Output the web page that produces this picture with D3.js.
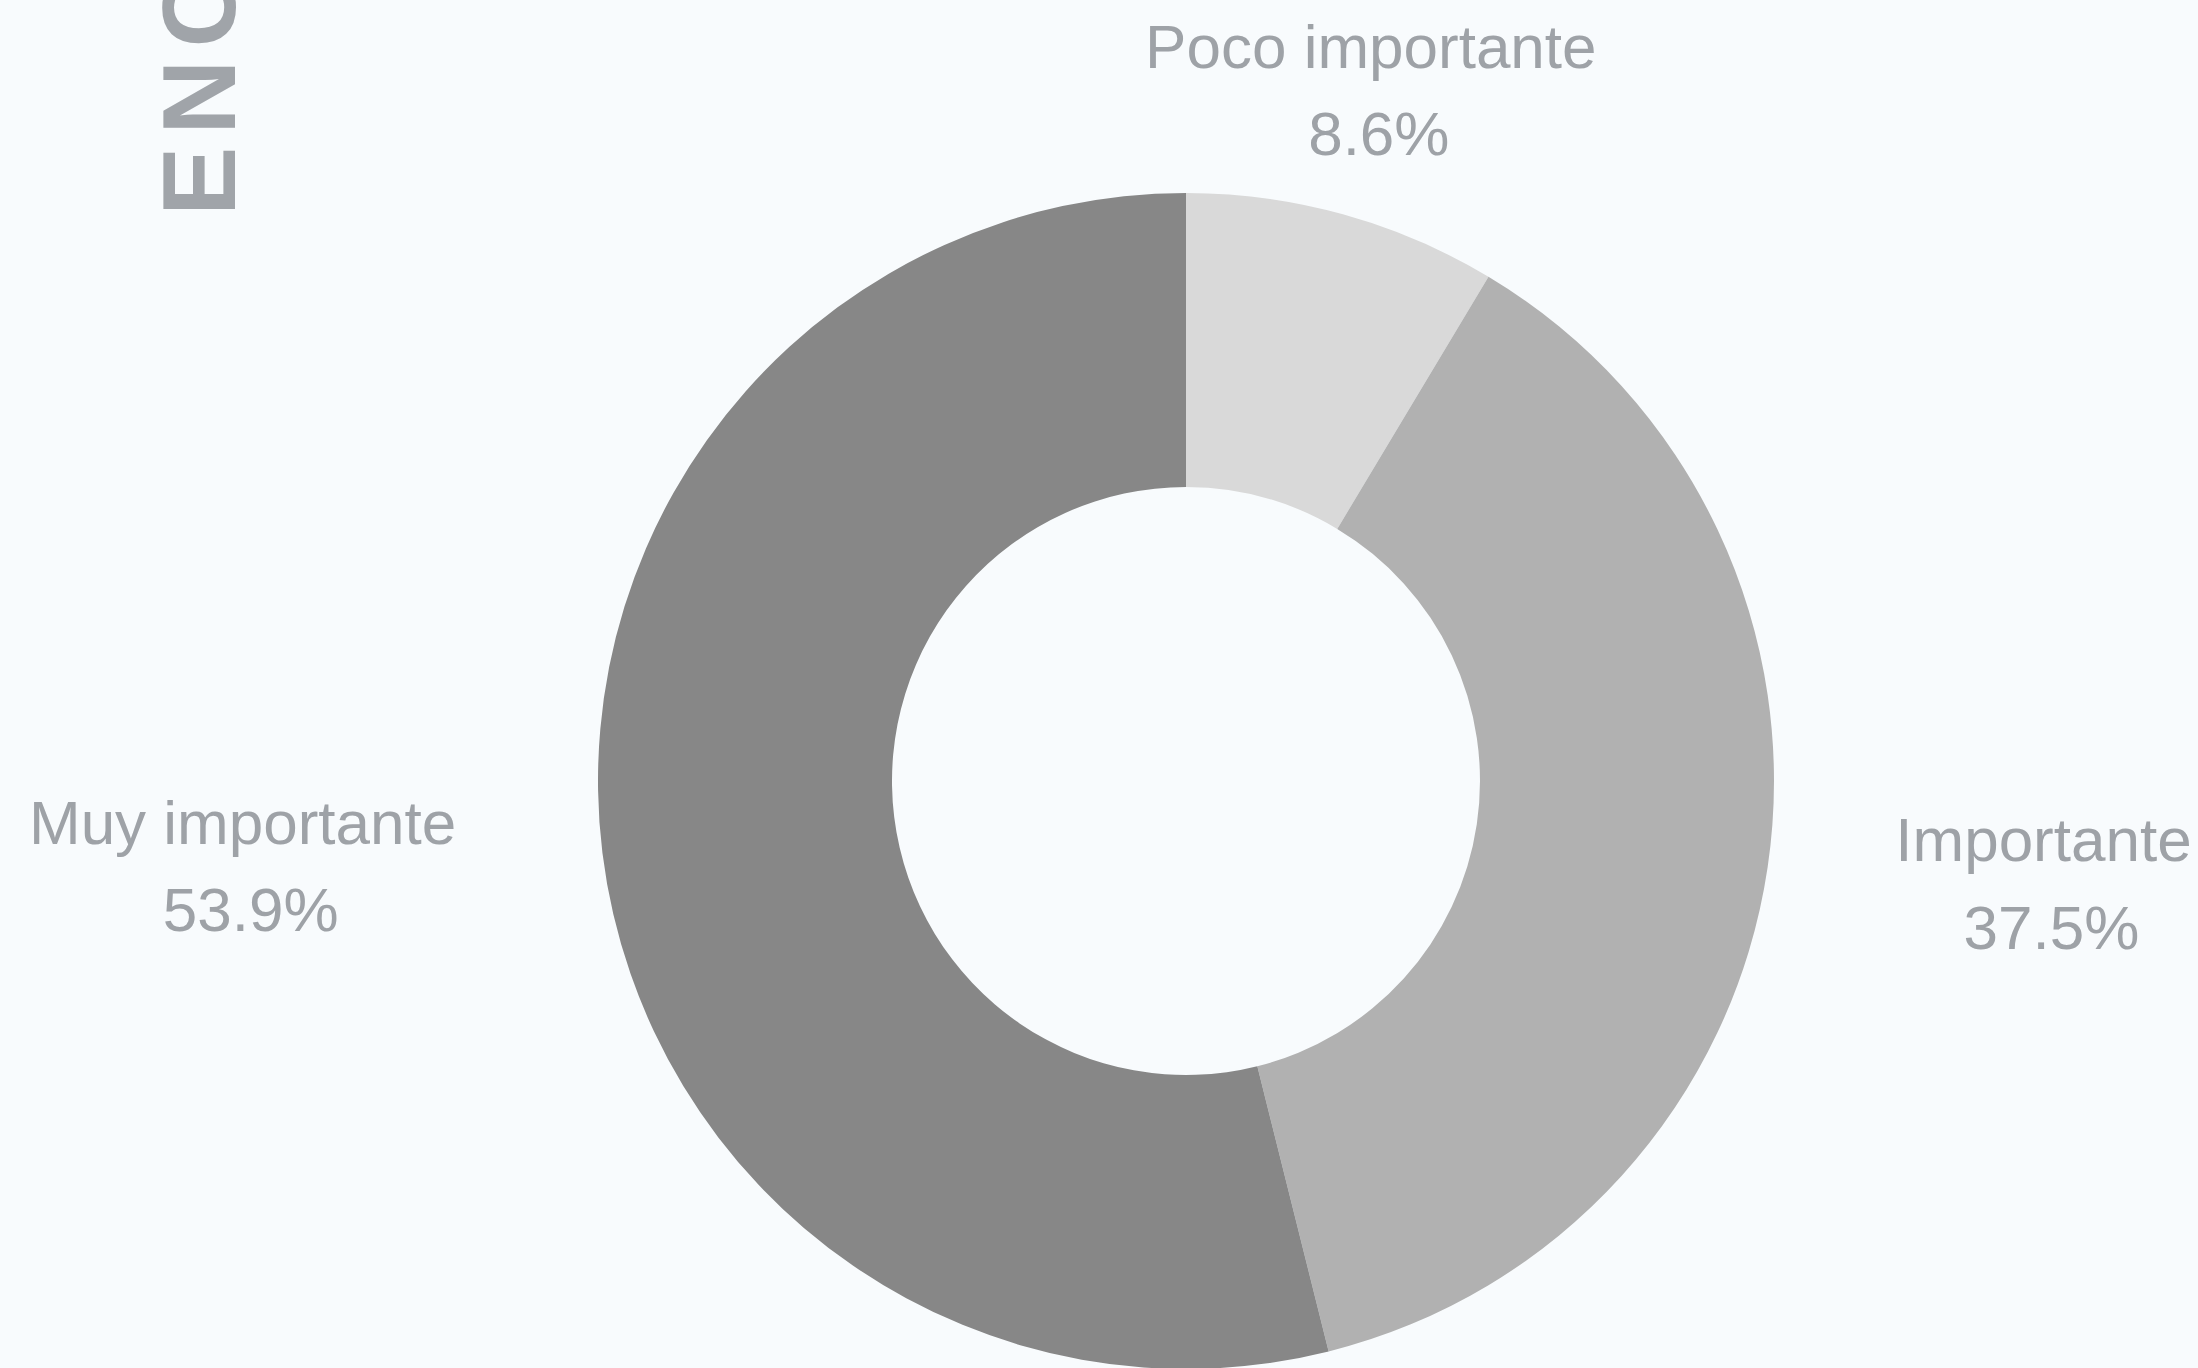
<!DOCTYPE html>
<html>
<head>
<meta charset="utf-8">
<script src="https://cdn.jsdelivr.net/npm/d3@7"></script>
<style>
  html, body { margin: 0; padding: 0; background: #f8fbfd; overflow: hidden; }
  svg { display: block; }
</style>
</head>
<body>
<svg id="chart"></svg>
<script>
// data
const categories = ["Poco importante", "Importante", "Muy importante"]
const values = [8.6, 37.5, 53.9]
const colors = ["#d9d9d9", "#b1b1b1", "#878787"]
const sideTitle = "ENCUESTA"

const w = 2198
const h = 1368

const svg = d3.select("#chart")
  .attr("width", w)
  .attr("height", h)

svg.append("rect")
  .attr("width", w)
  .attr("height", h)
  .attr("fill", "#f8fbfd")

// donut geometry
const cx = 1186
const cy = 781
const outerR = 588
const innerR = 294
const labelRx = outerR * 1.235
const labelRy = outerR * 1.215

const data = categories.map((c, i) => ({ name: c, value: values[i], color: colors[i] }))

const pie = d3.pie()
  .value(d => d.value)
  .sort(null)

const arc = d3.arc()
  .innerRadius(innerR)
  .outerRadius(outerR)

const g = svg.append("g")
  .attr("transform", `translate(${cx}, ${cy})`)

const arcs = pie(data)

g.selectAll("path")
  .data(arcs)
  .join("path")
  .attr("d", arc)
  .attr("fill", d => d.data.color)

// labels outside the ring
const fs = 62
const midAngle = d => (d.startAngle + d.endAngle) / 2

const labels = svg.append("g")
  .attr("transform", `translate(${cx - 9}, ${cy})`)
  .selectAll("text")
  .data(arcs)
  .join("text")
  .attr("font-family", "'Liberation Sans', Arial, sans-serif")
  .attr("font-size", fs)
  .attr("fill", "#9ea2a7")
  .attr("text-anchor", d => {
    const s = Math.sin(midAngle(d))
    if (Math.abs(s) < 0.5) return "middle"
    return s > 0 ? "start" : "end"
  })
  .attr("transform", d => {
    const a = midAngle(d)
    return `translate(${labelRx * Math.sin(a)}, ${-labelRy * Math.cos(a)})`
  })

labels.append("tspan")
  .attr("x", 0)
  .attr("y", -0.4 * fs)
  .text(d => d.data.name)

labels.append("tspan")
  .attr("x", 8)
  .attr("y", 1.01 * fs)
  .text(d => d3.format(".1f")(d.data.value) + "%")
  .each(function () {
    // centre the percentage under the name
    const parent = this.parentNode
    const anchor = d3.select(parent).attr("text-anchor")
    if (anchor !== "middle") {
      const nameW = parent.firstChild.getComputedTextLength()
      const dx = anchor === "start" ? nameW / 2 : -nameW / 2
      d3.select(this).attr("x", dx + 8).attr("text-anchor", "middle")
    }
  })

// rotated side title, runs off the top edge
svg.append("text")
  .attr("transform", "translate(235, 216) rotate(-90)")
  .attr("font-family", "'Liberation Sans', Arial, sans-serif")
  .attr("font-weight", "bold")
  .attr("font-size", 104)
  .attr("letter-spacing", 12)
  .attr("fill", "#a0a4a9")
  .text(sideTitle)
</script>
</body>
</html>
